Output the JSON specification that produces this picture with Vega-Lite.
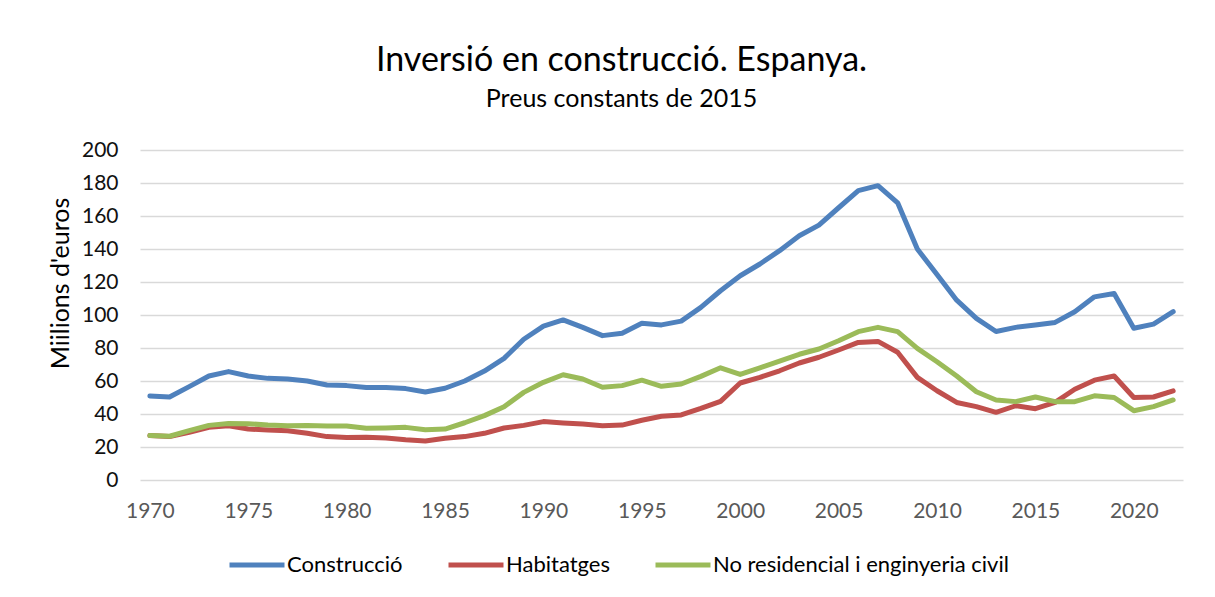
{
  "$schema": "https://vega.github.io/schema/vega-lite/v6.json",
  "width": 1043,
  "height": 330,
  "autosize": {"type": "none"},
  "padding": {"left": 140, "top": 150, "right": 32, "bottom": 117},
  "background": "white",
  "title": {
    "text": "Inversió en construcció. Espanya.",
    "subtitle": "Preus constants de 2015",
    "anchor": "middle",
    "frame": "group",
    "dx": -40,
    "offset": 27,
    "font": "Lato",
    "fontSize": 34,
    "fontWeight": "normal",
    "color": "#000000",
    "subtitleFont": "Lato",
    "subtitleFontSize": 25,
    "subtitleColor": "#000000",
    "subtitlePadding": 9
  },
  "data": {
    "values": [
      {"year":1970,"series":"Construcció","value":50.9},
      {"year":1971,"series":"Construcció","value":50.3},
      {"year":1972,"series":"Construcció","value":56.6},
      {"year":1973,"series":"Construcció","value":63},
      {"year":1974,"series":"Construcció","value":65.7},
      {"year":1975,"series":"Construcció","value":63},
      {"year":1976,"series":"Construcció","value":61.6},
      {"year":1977,"series":"Construcció","value":61.2},
      {"year":1978,"series":"Construcció","value":60},
      {"year":1979,"series":"Construcció","value":57.6},
      {"year":1980,"series":"Construcció","value":57.2},
      {"year":1981,"series":"Construcció","value":56},
      {"year":1982,"series":"Construcció","value":56},
      {"year":1983,"series":"Construcció","value":55.4},
      {"year":1984,"series":"Construcció","value":53.3},
      {"year":1985,"series":"Construcció","value":55.6},
      {"year":1986,"series":"Construcció","value":60},
      {"year":1987,"series":"Construcció","value":66},
      {"year":1988,"series":"Construcció","value":73.7},
      {"year":1989,"series":"Construcció","value":85.3},
      {"year":1990,"series":"Construcció","value":93.3},
      {"year":1991,"series":"Construcció","value":97},
      {"year":1992,"series":"Construcció","value":92.5},
      {"year":1993,"series":"Construcció","value":87.5},
      {"year":1994,"series":"Construcció","value":89},
      {"year":1995,"series":"Construcció","value":95},
      {"year":1996,"series":"Construcció","value":94},
      {"year":1997,"series":"Construcció","value":96.3},
      {"year":1998,"series":"Construcció","value":104.6},
      {"year":1999,"series":"Construcció","value":114.7},
      {"year":2000,"series":"Construcció","value":123.8},
      {"year":2001,"series":"Construcció","value":130.9},
      {"year":2002,"series":"Construcció","value":139},
      {"year":2003,"series":"Construcció","value":148},
      {"year":2004,"series":"Construcció","value":154.5},
      {"year":2005,"series":"Construcció","value":165},
      {"year":2006,"series":"Construcció","value":175.4},
      {"year":2007,"series":"Construcció","value":178.4},
      {"year":2008,"series":"Construcció","value":168},
      {"year":2009,"series":"Construcció","value":140},
      {"year":2010,"series":"Construcció","value":124.5},
      {"year":2011,"series":"Construcció","value":109},
      {"year":2012,"series":"Construcció","value":98},
      {"year":2013,"series":"Construcció","value":90},
      {"year":2014,"series":"Construcció","value":92.5},
      {"year":2015,"series":"Construcció","value":94},
      {"year":2016,"series":"Construcció","value":95.5},
      {"year":2017,"series":"Construcció","value":102},
      {"year":2018,"series":"Construcció","value":111},
      {"year":2019,"series":"Construcció","value":113},
      {"year":2020,"series":"Construcció","value":92},
      {"year":2021,"series":"Construcció","value":94.5},
      {"year":2022,"series":"Construcció","value":102},
      {"year":1970,"series":"Habitatges","value":26.9},
      {"year":1971,"series":"Habitatges","value":26.3},
      {"year":1972,"series":"Habitatges","value":28.9},
      {"year":1973,"series":"Habitatges","value":31.9},
      {"year":1974,"series":"Habitatges","value":32.9},
      {"year":1975,"series":"Habitatges","value":30.9},
      {"year":1976,"series":"Habitatges","value":30.3},
      {"year":1977,"series":"Habitatges","value":29.9},
      {"year":1978,"series":"Habitatges","value":28.3},
      {"year":1979,"series":"Habitatges","value":26.3},
      {"year":1980,"series":"Habitatges","value":25.7},
      {"year":1981,"series":"Habitatges","value":25.9},
      {"year":1982,"series":"Habitatges","value":25.5},
      {"year":1983,"series":"Habitatges","value":24.4},
      {"year":1984,"series":"Habitatges","value":23.6},
      {"year":1985,"series":"Habitatges","value":25.3},
      {"year":1986,"series":"Habitatges","value":26.3},
      {"year":1987,"series":"Habitatges","value":28.3},
      {"year":1988,"series":"Habitatges","value":31.5},
      {"year":1989,"series":"Habitatges","value":33.1},
      {"year":1990,"series":"Habitatges","value":35.4},
      {"year":1991,"series":"Habitatges","value":34.6},
      {"year":1992,"series":"Habitatges","value":33.9},
      {"year":1993,"series":"Habitatges","value":32.9},
      {"year":1994,"series":"Habitatges","value":33.3},
      {"year":1995,"series":"Habitatges","value":36.2},
      {"year":1996,"series":"Habitatges","value":38.6},
      {"year":1997,"series":"Habitatges","value":39.4},
      {"year":1998,"series":"Habitatges","value":43.4},
      {"year":1999,"series":"Habitatges","value":47.7},
      {"year":2000,"series":"Habitatges","value":58.8},
      {"year":2001,"series":"Habitatges","value":62.2},
      {"year":2002,"series":"Habitatges","value":66.2},
      {"year":2003,"series":"Habitatges","value":70.9},
      {"year":2004,"series":"Habitatges","value":74.4},
      {"year":2005,"series":"Habitatges","value":78.8},
      {"year":2006,"series":"Habitatges","value":83.4},
      {"year":2007,"series":"Habitatges","value":84},
      {"year":2008,"series":"Habitatges","value":77.4},
      {"year":2009,"series":"Habitatges","value":62.2},
      {"year":2010,"series":"Habitatges","value":54.1},
      {"year":2011,"series":"Habitatges","value":47},
      {"year":2012,"series":"Habitatges","value":44.5},
      {"year":2013,"series":"Habitatges","value":41},
      {"year":2014,"series":"Habitatges","value":45},
      {"year":2015,"series":"Habitatges","value":43.2},
      {"year":2016,"series":"Habitatges","value":47},
      {"year":2017,"series":"Habitatges","value":55},
      {"year":2018,"series":"Habitatges","value":60.5},
      {"year":2019,"series":"Habitatges","value":63},
      {"year":2020,"series":"Habitatges","value":50},
      {"year":2021,"series":"Habitatges","value":50.3},
      {"year":2022,"series":"Habitatges","value":54},
      {"year":1970,"series":"No residencial i enginyeria civil","value":26.9},
      {"year":1971,"series":"No residencial i enginyeria civil","value":26.5},
      {"year":1972,"series":"No residencial i enginyeria civil","value":29.9},
      {"year":1973,"series":"No residencial i enginyeria civil","value":33.1},
      {"year":1974,"series":"No residencial i enginyeria civil","value":34.3},
      {"year":1975,"series":"No residencial i enginyeria civil","value":34.1},
      {"year":1976,"series":"No residencial i enginyeria civil","value":33.3},
      {"year":1977,"series":"No residencial i enginyeria civil","value":32.9},
      {"year":1978,"series":"No residencial i enginyeria civil","value":33.1},
      {"year":1979,"series":"No residencial i enginyeria civil","value":32.7},
      {"year":1980,"series":"No residencial i enginyeria civil","value":32.7},
      {"year":1981,"series":"No residencial i enginyeria civil","value":31.3},
      {"year":1982,"series":"No residencial i enginyeria civil","value":31.5},
      {"year":1983,"series":"No residencial i enginyeria civil","value":31.9},
      {"year":1984,"series":"No residencial i enginyeria civil","value":30.5},
      {"year":1985,"series":"No residencial i enginyeria civil","value":30.9},
      {"year":1986,"series":"No residencial i enginyeria civil","value":34.7},
      {"year":1987,"series":"No residencial i enginyeria civil","value":39},
      {"year":1988,"series":"No residencial i enginyeria civil","value":44.4},
      {"year":1989,"series":"No residencial i enginyeria civil","value":53.1},
      {"year":1990,"series":"No residencial i enginyeria civil","value":59.2},
      {"year":1991,"series":"No residencial i enginyeria civil","value":63.8},
      {"year":1992,"series":"No residencial i enginyeria civil","value":61.2},
      {"year":1993,"series":"No residencial i enginyeria civil","value":56.2},
      {"year":1994,"series":"No residencial i enginyeria civil","value":57.2},
      {"year":1995,"series":"No residencial i enginyeria civil","value":60.5},
      {"year":1996,"series":"No residencial i enginyeria civil","value":56.8},
      {"year":1997,"series":"No residencial i enginyeria civil","value":58.2},
      {"year":1998,"series":"No residencial i enginyeria civil","value":62.8},
      {"year":1999,"series":"No residencial i enginyeria civil","value":68},
      {"year":2000,"series":"No residencial i enginyeria civil","value":64},
      {"year":2001,"series":"No residencial i enginyeria civil","value":68},
      {"year":2002,"series":"No residencial i enginyeria civil","value":72.1},
      {"year":2003,"series":"No residencial i enginyeria civil","value":76.2},
      {"year":2004,"series":"No residencial i enginyeria civil","value":79.4},
      {"year":2005,"series":"No residencial i enginyeria civil","value":84.4},
      {"year":2006,"series":"No residencial i enginyeria civil","value":89.9},
      {"year":2007,"series":"No residencial i enginyeria civil","value":92.5},
      {"year":2008,"series":"No residencial i enginyeria civil","value":89.9},
      {"year":2009,"series":"No residencial i enginyeria civil","value":79.8},
      {"year":2010,"series":"No residencial i enginyeria civil","value":71.7},
      {"year":2011,"series":"No residencial i enginyeria civil","value":63},
      {"year":2012,"series":"No residencial i enginyeria civil","value":53.5},
      {"year":2013,"series":"No residencial i enginyeria civil","value":48.5},
      {"year":2014,"series":"No residencial i enginyeria civil","value":47.5},
      {"year":2015,"series":"No residencial i enginyeria civil","value":50.3},
      {"year":2016,"series":"No residencial i enginyeria civil","value":47.5},
      {"year":2017,"series":"No residencial i enginyeria civil","value":47.5},
      {"year":2018,"series":"No residencial i enginyeria civil","value":51},
      {"year":2019,"series":"No residencial i enginyeria civil","value":50},
      {"year":2020,"series":"No residencial i enginyeria civil","value":42},
      {"year":2021,"series":"No residencial i enginyeria civil","value":44.5},
      {"year":2022,"series":"No residencial i enginyeria civil","value":48.5}
    ]
  },
  "mark": {"type": "line", "strokeWidth": 5, "strokeCap": "round", "strokeJoin": "round"},
  "encoding": {
    "x": {
      "field": "year",
      "type": "quantitative",
      "scale": {"domain": [1969.5, 2022.5], "nice": false, "zero": false},
      "axis": {
        "title": null,
        "values": [1970, 1975, 1980, 1985, 1990, 1995, 2000, 2005, 2010, 2015, 2020],
        "format": "d",
        "grid": false,
        "domain": false,
        "ticks": false,
        "labelFont": "Lato",
        "labelFontSize": 21,
        "labelColor": "#595959",
        "labelPadding": 20
      }
    },
    "y": {
      "field": "value",
      "type": "quantitative",
      "scale": {"domain": [0, 200], "nice": false},
      "axis": {
        "title": "Miilions d'euros",
        "values": [0, 20, 40, 60, 80, 100, 120, 140, 160, 180, 200],
        "grid": true,
        "gridColor": "#d9d9d9",
        "gridWidth": 1.3,
        "domain": false,
        "ticks": false,
        "labelFont": "Lato",
        "labelFontSize": 21,
        "labelColor": "#111111",
        "labelPadding": 22,
        "titleFont": "Lato",
        "titleFontSize": 25,
        "titleFontWeight": "normal",
        "titleColor": "#000000",
        "titleX": -80,
        "titleY": 133,
        "titleAlign": "center",
        "titleBaseline": "middle",
        "titleAngle": -90
      }
    },
    "color": {
      "field": "series",
      "type": "nominal",
      "scale": {
        "domain": ["Construcció", "Habitatges", "No residencial i enginyeria civil"],
        "range": ["#4f81bd", "#c0504d", "#9bbb59"]
      },
      "legend": {
        "title": null,
        "orient": "none",
        "direction": "horizontal",
        "legendX": 87,
        "legendY": 385,
        "symbolType": "stroke",
        "symbolSize": 3025,
        "symbolStrokeWidth": 5,
        "labelFont": "Lato",
        "labelFontSize": 22,
        "labelColor": "#000000",
        "labelOffset": 0,
        "columnPadding": 35,
        "labelLimit": 400
      }
    }
  },
  "config": {"view": {"stroke": null}}
}
